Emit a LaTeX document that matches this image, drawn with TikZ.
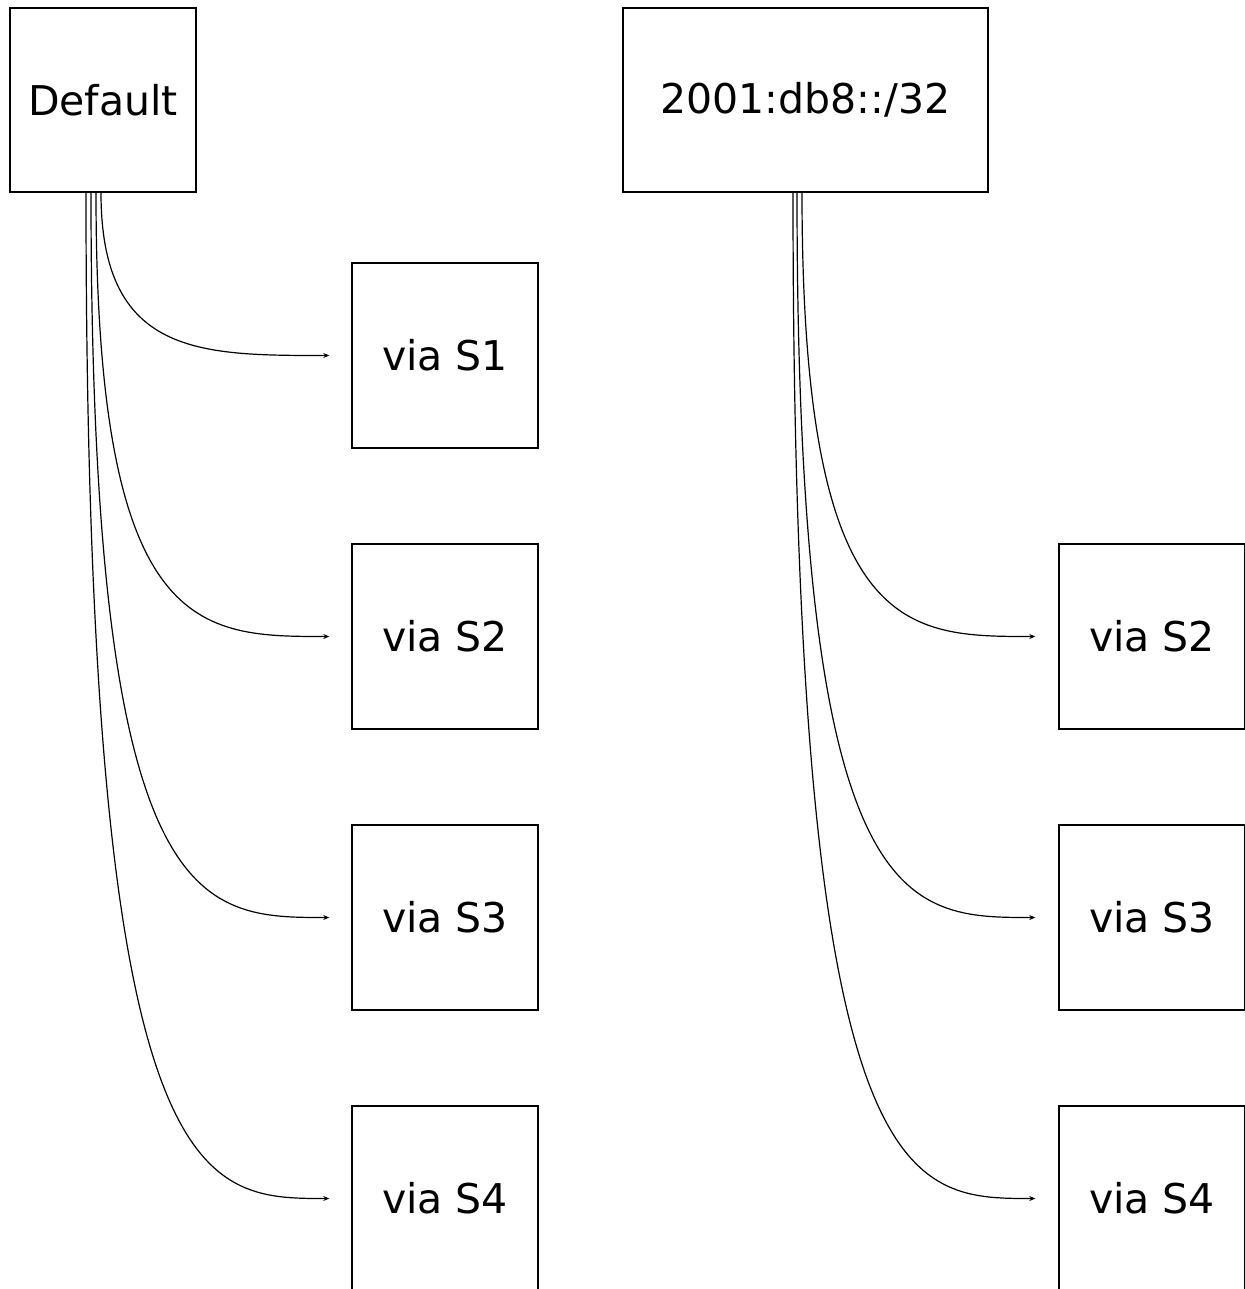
\documentclass[tikz,border=0pt]{standalone}
\usepackage{fontspec}
\setmainfont{DejaVu Sans}
\usetikzlibrary{arrows.meta,calc}
\tikzset{
 box/.style={draw,line width=0.7pt,minimum width=93pt,minimum height=92.5pt,inner sep=0pt,
  font=\fontsize{20.5}{24}\selectfont},
 conn/.style={line width=0.6pt,-{Stealth[length=3pt,width=2.5pt]}}
}
\begin{document}
\begin{tikzpicture}[x=0.5pt,y=-0.5pt]
 \useasboundingbox (0,0) rectangle (1245,1289);
 % route boxes
 \node[box,minimum height=92pt] (dflt) at (103,100) {Default};
 \node[box,minimum width=182.5pt,minimum height=92pt] (pfx) at (805.5,100) {2001:db8::/32};
 % next hops, default route
 \node[box] (ls1) at (445,355.5) {via S1};
 \node[box] (ls2) at (445,636.5) {via S2};
 \node[box] (ls3) at (445,917.5) {via S3};
 \node[box] (ls4) at (445,1198.5) {via S4};
 % next hops, prefix
 \node[box] (rs2) at (1152,636.5) {via S2};
 \node[box] (rs3) at (1152,917.5) {via S3};
 \node[box] (rs4) at (1152,1198.5) {via S4};
 % start and end points
 \coordinate (d1) at ([xshift=-1pt]dflt.south);
 \coordinate (d2) at ([xshift=-3.5pt]dflt.south);
 \coordinate (d3) at ([xshift=-6pt]dflt.south);
 \coordinate (d4) at ([xshift=-8.5pt]dflt.south);
 \coordinate (p2) at ([xshift=-1.75pt]pfx.south);
 \coordinate (p3) at ([xshift=-4.25pt]pfx.south);
 \coordinate (p4) at ([xshift=-6.25pt]pfx.south);
 \foreach \n in {1,2,3,4}
  \coordinate (le\n) at ([xshift=-11pt]ls\n.west);
 \foreach \n in {2,3,4}
  \coordinate (re\n) at ([xshift=-11.5pt]rs\n.west);
 % connectors
 \foreach \n in {1,2,3,4}
  \draw[conn] (d\n) .. controls (d\n |- le\n) and ([xshift=-65pt]le\n) .. (le\n);
 \foreach \n in {2,3,4}
  \draw[conn] (p\n) .. controls (p\n |- re\n) and ([xshift=-65pt]re\n) .. (re\n);
\end{tikzpicture}
\end{document}
